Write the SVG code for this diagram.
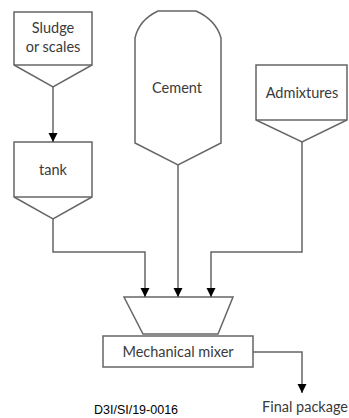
<svg xmlns="http://www.w3.org/2000/svg" width="349" height="418" viewBox="0 0 349 418">
<style>
.s{fill:#fff;stroke:#666;stroke-width:1.5}
.c{fill:none;stroke:#666;stroke-width:1.5}
.t{font-family:Lato,"Open Sans",sans-serif;font-size:14.5px;fill:#3a3a3a;text-anchor:middle}
</style>
<defs>
<marker id="a" markerWidth="10" markerHeight="10" refX="9" refY="5" orient="auto" markerUnits="userSpaceOnUse">
<path d="M0,0.5 L9,5 L0,9.5 Z" fill="#000"/>
</marker>
</defs>
<rect width="349" height="418" fill="#fff"/>
<g id="sludge">
<path class="s" d="M14,12 H92 V65 L53,87 L14,65 Z"/>
<line class="c" x1="14" y1="65" x2="92" y2="65"/>
<text class="t" x="53" y="33">Sludge</text>
<text class="t" x="53" y="52">or scales</text>
</g>
<g id="tank">
<path class="s" d="M14,142 H92 V197 L53,219 L14,197 Z"/>
<line class="c" x1="14" y1="197" x2="92" y2="197"/>
<text class="t" x="53" y="175">tank</text>
</g>
<g id="cement">
<path class="s" d="M135,143 V38 Q139,20 158,11 H196 Q216,20 221,38 V143 L178,165 L135,143 Z"/>
<text class="t" x="177" y="93">Cement</text>
</g>
<g id="admixtures">
<path class="s" d="M256,65 H347 V120 L302,142 L256,120 Z"/>
<line class="c" x1="256" y1="120" x2="347" y2="120"/>
<text class="t" x="302" y="98">Admixtures</text>
</g>
<g id="hopper">
<path class="s" d="M124,297 H233 L218,334 H143 Z"/>
</g>
<g id="mixer">
<rect class="s" x="103" y="336" width="150" height="31"/>
<text class="t" x="178" y="357">Mechanical mixer</text>
</g>
<g id="final">
<text class="t" x="305" y="412">Final package</text>
</g>
<g id="connectors">
<line class="c" x1="53" y1="87" x2="53" y2="142" marker-end="url(#a)"/>
<polyline class="c" points="53,219 53,252 145,252 145,297" marker-end="url(#a)"/>
<line class="c" x1="178" y1="165" x2="178" y2="297" marker-end="url(#a)"/>
<polyline class="c" points="302,142 302,252 211,252 211,297" marker-end="url(#a)"/>
<polyline class="c" points="253,352 302,352 302,393" marker-end="url(#a)"/>
</g>
<text x="136" y="414" font-family="Liberation Sans,Arial,sans-serif" font-size="12.5" fill="#000" text-anchor="middle">D3I/SI/19-0016</text>
</svg>
